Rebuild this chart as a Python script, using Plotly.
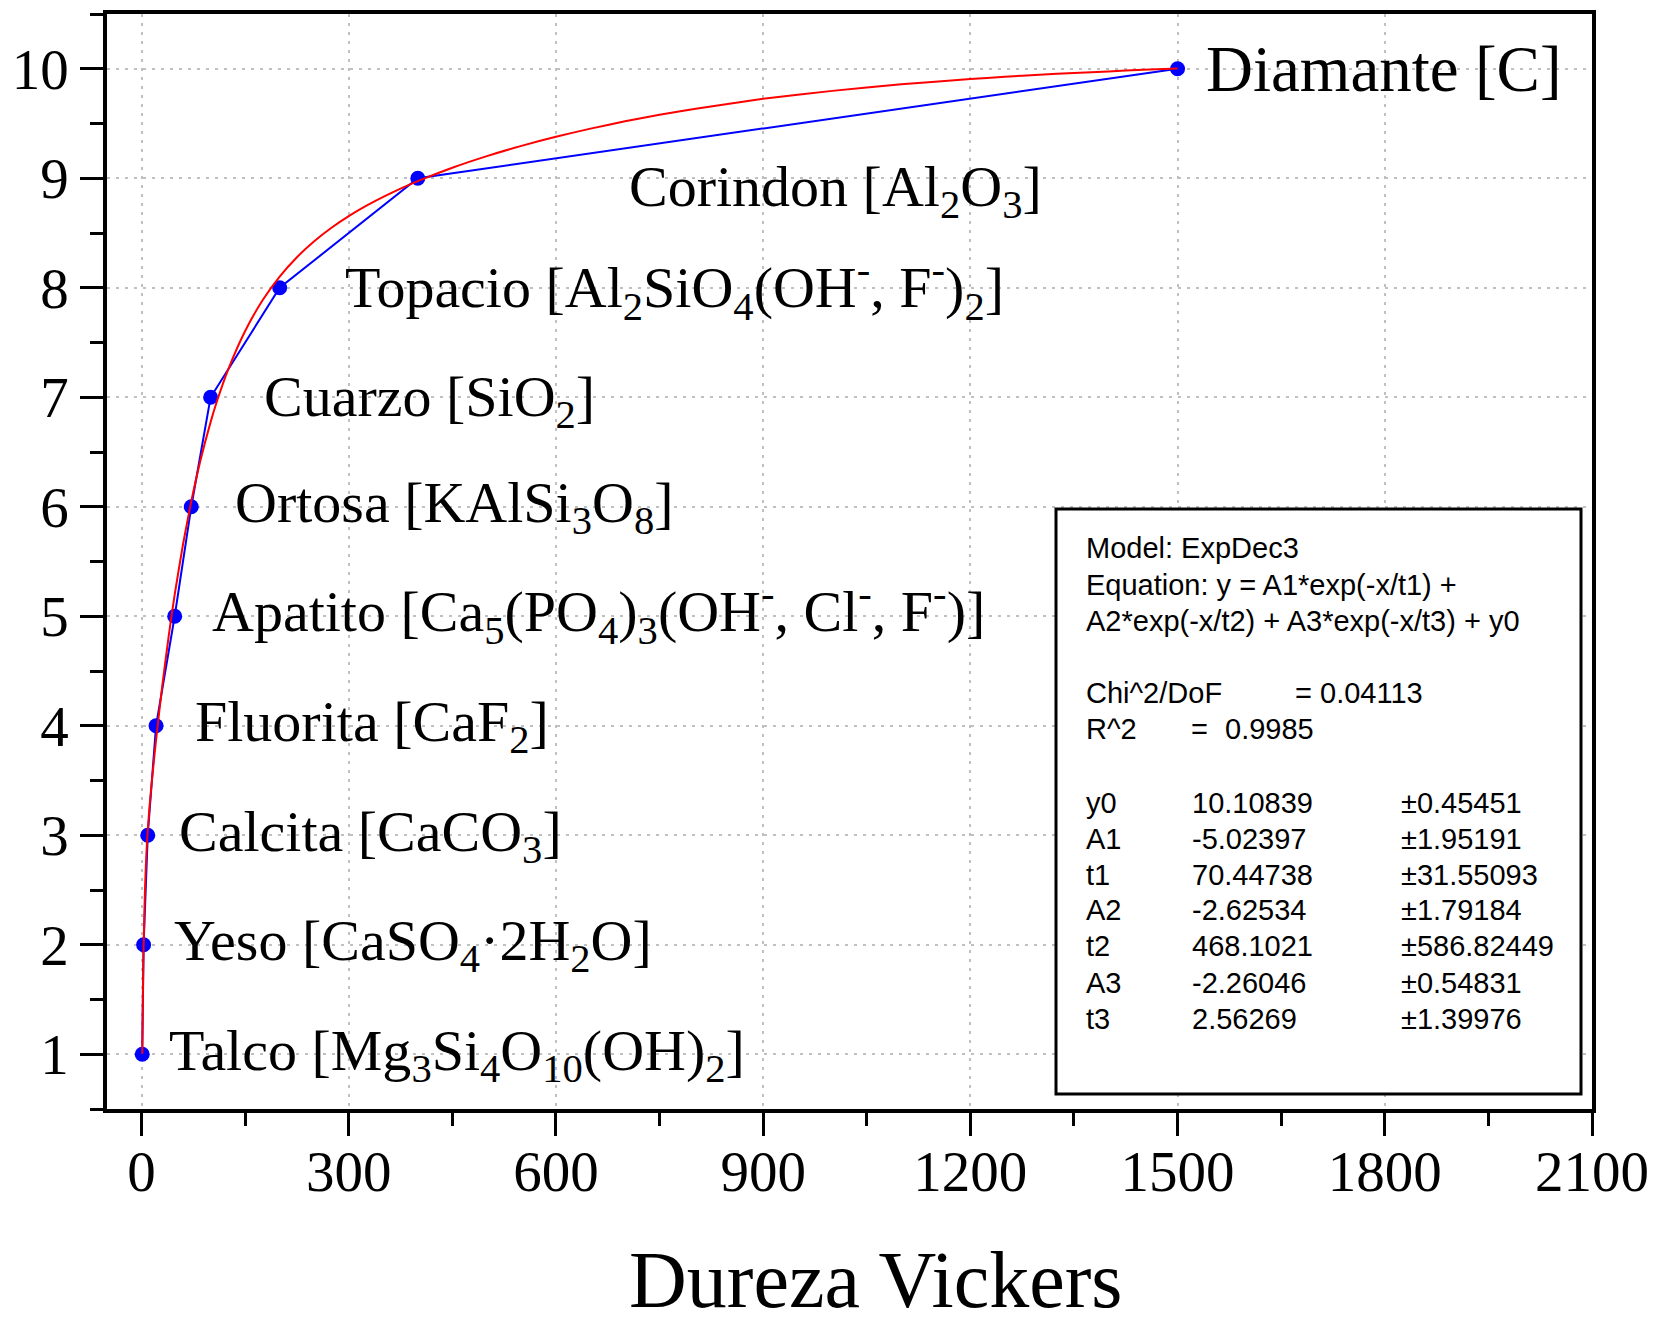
import plotly.graph_objects as go

# ---------------- data ----------------
minerals = ["Talco", "Yeso", "Calcita", "Fluorita", "Apatito", "Ortosa",
            "Cuarzo", "Topacio", "Corindon", "Diamante"]
vickers = [1, 3, 9, 21, 48, 72, 100, 200, 400, 1500]
mohs = [1, 2, 3, 4, 5, 6, 7, 8, 9, 10]
labels = [
    "Talco [Mg<sub>3</sub>Si<sub>4</sub>O<sub>10</sub>(OH)<sub>2</sub>]",
    "Yeso [CaSO<sub>4</sub>·2H<sub>2</sub>O]",
    "Calcita [CaCO<sub>3</sub>]",
    "Fluorita [CaF<sub>2</sub>]",
    "Apatito [Ca<sub>5</sub>(PO<sub>4</sub>)<sub>3</sub>(OH<sup>-</sup>, Cl<sup>-</sup>, F<sup>-</sup>)]",
    "Ortosa [KAlSi<sub>3</sub>O<sub>8</sub>]",
    "Cuarzo [SiO<sub>2</sub>]",
    "Topacio [Al<sub>2</sub>SiO<sub>4</sub>(OH<sup>-</sup>, F<sup>-</sup>)<sub>2</sub>]",
    "Corindon [Al<sub>2</sub>O<sub>3</sub>]",
    "Diamante [C]",
]

# ExpDec3 fit curve
fit_x = [1, 2, 3, 5, 7, 9, 12, 15, 21, 30, 40, 48, 60, 72, 85, 100, 110, 125,
         150, 175, 200, 225, 250, 275, 300, 325, 350, 375, 400, 450, 500, 550,
         600, 650, 700, 750, 800, 900, 1000, 1100, 1200, 1250, 1300, 1350,
         1400, 1450, 1500]
fit_y = [1.005, 1.575, 1.984, 2.510, 2.826, 3.044, 3.291, 3.499, 3.869, 4.364,
         4.851, 5.197, 5.655, 6.049, 6.416, 6.773, 6.979, 7.246, 7.605, 7.883,
         8.102, 8.279, 8.425, 8.548, 8.654, 8.747, 8.830, 8.906, 8.974, 9.096,
         9.202, 9.296, 9.379, 9.453, 9.520, 9.579, 9.633, 9.725, 9.798, 9.858,
         9.906, 9.927, 9.945, 9.962, 9.976, 9.990, 10.002]

x_ticks = [0, 300, 600, 900, 1200, 1500, 1800, 2100]
y_ticks = [1, 2, 3, 4, 5, 6, 7, 8, 9, 10]

fit_header = ["Model: ExpDec3",
              "Equation: y = A1*exp(-x/t1) +",
              "A2*exp(-x/t2) + A3*exp(-x/t3) + y0"]
param_names = ["y0", "A1", "t1", "A2", "t2", "A3", "t3"]
param_values = ["10.10839", "-5.02397", "70.44738", "-2.62534", "468.1021",
                "-2.26046", "2.56269"]
param_errors = ["±0.45451", "±1.95191", "±31.55093", "±1.79184", "±586.82449",
                "±0.54831", "±1.39976"]

# ---------------- layout constants ----------------
W, H = 1654, 1317
ML, MR, MT, MB = 107, 62, 14, 208
PW, PH = W - ML - MR, H - MT - MB

def px(xp):
    return (xp - ML) / PW

def py(yp):
    return (H - MB - yp) / PH

SERIF = "Liberation Serif, Times New Roman, serif"
SANS = "Liberation Sans, Arial, sans-serif"

fig = go.Figure()
fig.add_trace(go.Scatter(
    x=vickers, y=mohs, mode="lines+markers",
    line=dict(color="#0000ff", width=2),
    marker=dict(color="#0000ff", size=15),
    showlegend=False, cliponaxis=False))
fig.add_trace(go.Scatter(
    x=fit_x, y=fit_y, mode="lines",
    line=dict(color="#ff0000", width=2, shape="spline", smoothing=0.6),
    showlegend=False))

# mineral labels: pixel offsets relative to each point
label_dx = [25, 28, 29, 37, 35, 42, 51, 63, 209, 26]
label_dy = [0, 0, 0, 0, 4, 0, -3, 0, -12, 0]
label_size = [58, 58, 58, 58, 58, 58, 58, 58, 58, 65]
anns = []
for xv, yv, txt, dx, dy, fs in zip(vickers, mohs, labels, label_dx, label_dy, label_size):
    anns.append(dict(x=xv, y=yv, xref="x", yref="y", text=txt, showarrow=False,
                     xanchor="left", yanchor="middle", xshift=dx, yshift=dy,
                     font=dict(family=SERIF, size=fs, color="black")))

# axis title
anns.append(dict(x=px(875), y=py(1280), xref="paper", yref="paper",
                 text="Dureza Vickers", showarrow=False, xanchor="center",
                 yanchor="middle", height=62,
                 font=dict(family=SERIF, size=80, color="black")))

# fit box text
box_font = dict(family=SANS, size=29, color="black")
col1, col2, col3 = 1084, 1190, 1399
header_y = [548, 585, 621]
for t, yy in zip(fit_header, header_y):
    anns.append(dict(x=px(col1), y=py(yy), xref="paper", yref="paper", text=t,
                     showarrow=False, xanchor="left", yanchor="middle", font=box_font))
stat_rows = [
    (693, [(col1, "Chi^2/DoF"), (1293, "="), (1318, "0.04113")]),
    (729, [(col1, "R^2"), (1189, "="), (1223, "0.9985")]),
]
for yy, items in stat_rows:
    for xx, t in items:
        anns.append(dict(x=px(xx), y=py(yy), xref="paper", yref="paper", text=t,
                         showarrow=False, xanchor="left", yanchor="middle",
                         font=box_font))
row_y = [803, 838.5, 874.5, 910, 946, 983, 1019]
for yy, n, v, e in zip(row_y, param_names, param_values, param_errors):
    for xx, t in [(col1, n), (col2, v), (col3, e)]:
        anns.append(dict(x=px(xx), y=py(yy), xref="paper", yref="paper", text=t,
                         showarrow=False, xanchor="left", yanchor="middle",
                         font=box_font))

shapes = [dict(type="rect", xref="paper", yref="paper",
               x0=px(1056), x1=px(1581), y0=py(1094), y1=py(509),
               line=dict(color="black", width=3), fillcolor="white",
               layer="above")]

axis_common = dict(
    showline=True, linecolor="black", linewidth=3.5, mirror=True,
    ticks="outside", ticklen=23, tickwidth=3, tickcolor="black",
    showgrid=True, gridcolor="#c0c0c0", griddash="3px,6px", gridwidth=1.5,
    zeroline=False, automargin=False,
    tickfont=dict(family=SERIF, size=57, color="black"),
)

fig.update_layout(
    width=W, height=H,
    margin=dict(l=ML, r=MR, t=MT, b=MB, autoexpand=False),
    paper_bgcolor="white", plot_bgcolor="white",
    annotations=anns, shapes=shapes,
    xaxis=dict(range=[-50, 2100], tickvals=x_ticks,
               minor=dict(dtick=150, tick0=0, ticklen=13, tickwidth=3,
                          tickcolor="black", ticks="outside", showgrid=False),
               ticklabelstandoff=-13, **axis_common),
    yaxis=dict(range=[0.5, 10.5], tickvals=y_ticks,
               minor=dict(dtick=0.5, tick0=0, ticklen=13, tickwidth=3,
                          tickcolor="black", ticks="outside", showgrid=False),
               ticklabelstandoff=0, **axis_common),
)

fig.write_html("out.html", config={"displayModeBar": False},
               post_script="document.body.style.margin='0';document.body.style.padding='0';")
